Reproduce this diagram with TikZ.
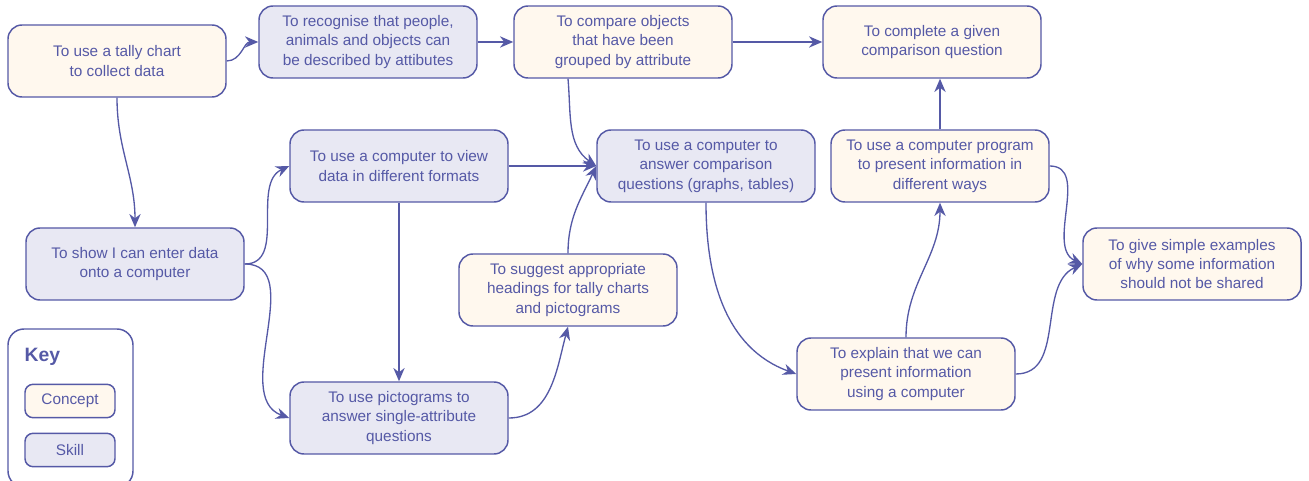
\documentclass[tikz,border=0pt]{standalone}
\usepackage{fontspec}
\setmainfont{Liberation Sans}
\usetikzlibrary{arrows.meta,calc}
\definecolor{ink}{HTML}{5559A6}
\definecolor{conceptfill}{HTML}{FFF8EE}
\definecolor{skillfill}{HTML}{E8E8F3}
\tikzset{
    box/.style={draw=ink, line width=1.1pt, rounded corners=10.5pt, text=ink, align=center,
        minimum width=163.5pt, minimum height=54pt, inner sep=2pt,
        font=\fontsize{11.5}{14.5}\selectfont},
    concept/.style={box, fill=conceptfill},
    skill/.style={box, fill=skillfill},
    keybox/.style={box, minimum width=67.5pt, minimum height=25pt, rounded corners=6pt},
    link/.style={draw=ink, line width=1pt, -{Stealth[length=10pt,width=8.5pt]}}
}
\begin{document}
\begin{tikzpicture}[x=0.75pt,y=0.75pt]
    \useasboundingbox (0,0) rectangle (1309,481);

    \node[concept] (tally) at (117,420) {To use a tally chart\\to collect data};
    \node[skill] (recognise) at (368,439) {To recognise that people,\\animals and objects can\\be described by attibutes};
    \node[concept] (compare) at (623,439) {To compare objects\\that have been\\grouped by attribute};
    \node[concept] (complete) at (932,439) {To complete a given\\comparison question};
    \node[skill] (view) at (399,315) {To use a computer to view\\data in different formats};
    \node[skill] (answer) at (706,315) {To use a computer to\\answer comparison\\questions (graphs, tables)};
    \node[concept] (program) at (940,315) {To use a computer program\\to present information in\\different ways};
    \node[skill] (enter) at (135,217) {To show I can enter data\\onto a computer};
    \node[concept] (suggest) at (568,191) {To suggest appropriate\\headings for tally charts\\and pictograms};
    \node[concept] (share) at (1192,217) {To give simple examples\\of why some information\\should not be shared};
    \node[skill] (pictograms) at (399,63) {To use pictograms to\\answer single-attribute\\questions};
    \node[concept] (explain) at (906,107) {To explain that we can\\present information\\using a computer};

    % key
    \draw[ink, line width=1.1pt, rounded corners=12pt] (8,-6) rectangle (133,152);
    \node[text=ink, font=\fontsize{14.5}{16}\bfseries\selectfont, anchor=west] (keytitle) at (20,124) {Key};
    \node[keybox, fill=conceptfill] (keyconcept) at (70,80) {Concept};
    \node[keybox, fill=skillfill] (keyskill) at (70,31) {Skill};

    \draw[link] (tally.east) to[out=0,in=180] (recognise.west);
    \draw[link] (recognise) -- (compare);
    \draw[link] (compare) -- (complete);
    \draw[link] (tally.south) to[out=-90,in=90] (enter.north);
    \draw[link] ($(compare.south)+(-55,0)$) to[out=-85,in=145] (answer.west);
    \draw[link] (view.east) -- (answer.west);
    \draw[link] (suggest.north) to[out=90,in=-115] (answer.west);
    \draw[link] (enter.east) to[out=0,in=205] (view.west);
    \draw[link] (enter.east) to[out=0,in=160] (pictograms.west);
    \draw[link] (view.south) -- (pictograms.north);
    \draw[link] (pictograms.east) to[out=0,in=-105] (suggest.south);
    \draw[link] (answer.south) to[out=-90,in=160] (explain.west);
    \draw[link] (explain.north) to[out=90,in=-90] (program.south);
    \draw[link] (program.north) -- (program.north |- complete.south);
    \draw[link] (program.east) to[out=0,in=155] (share.west);
    \draw[link] (explain.east) to[out=0,in=-155] (share.west);
\end{tikzpicture}
\end{document}
